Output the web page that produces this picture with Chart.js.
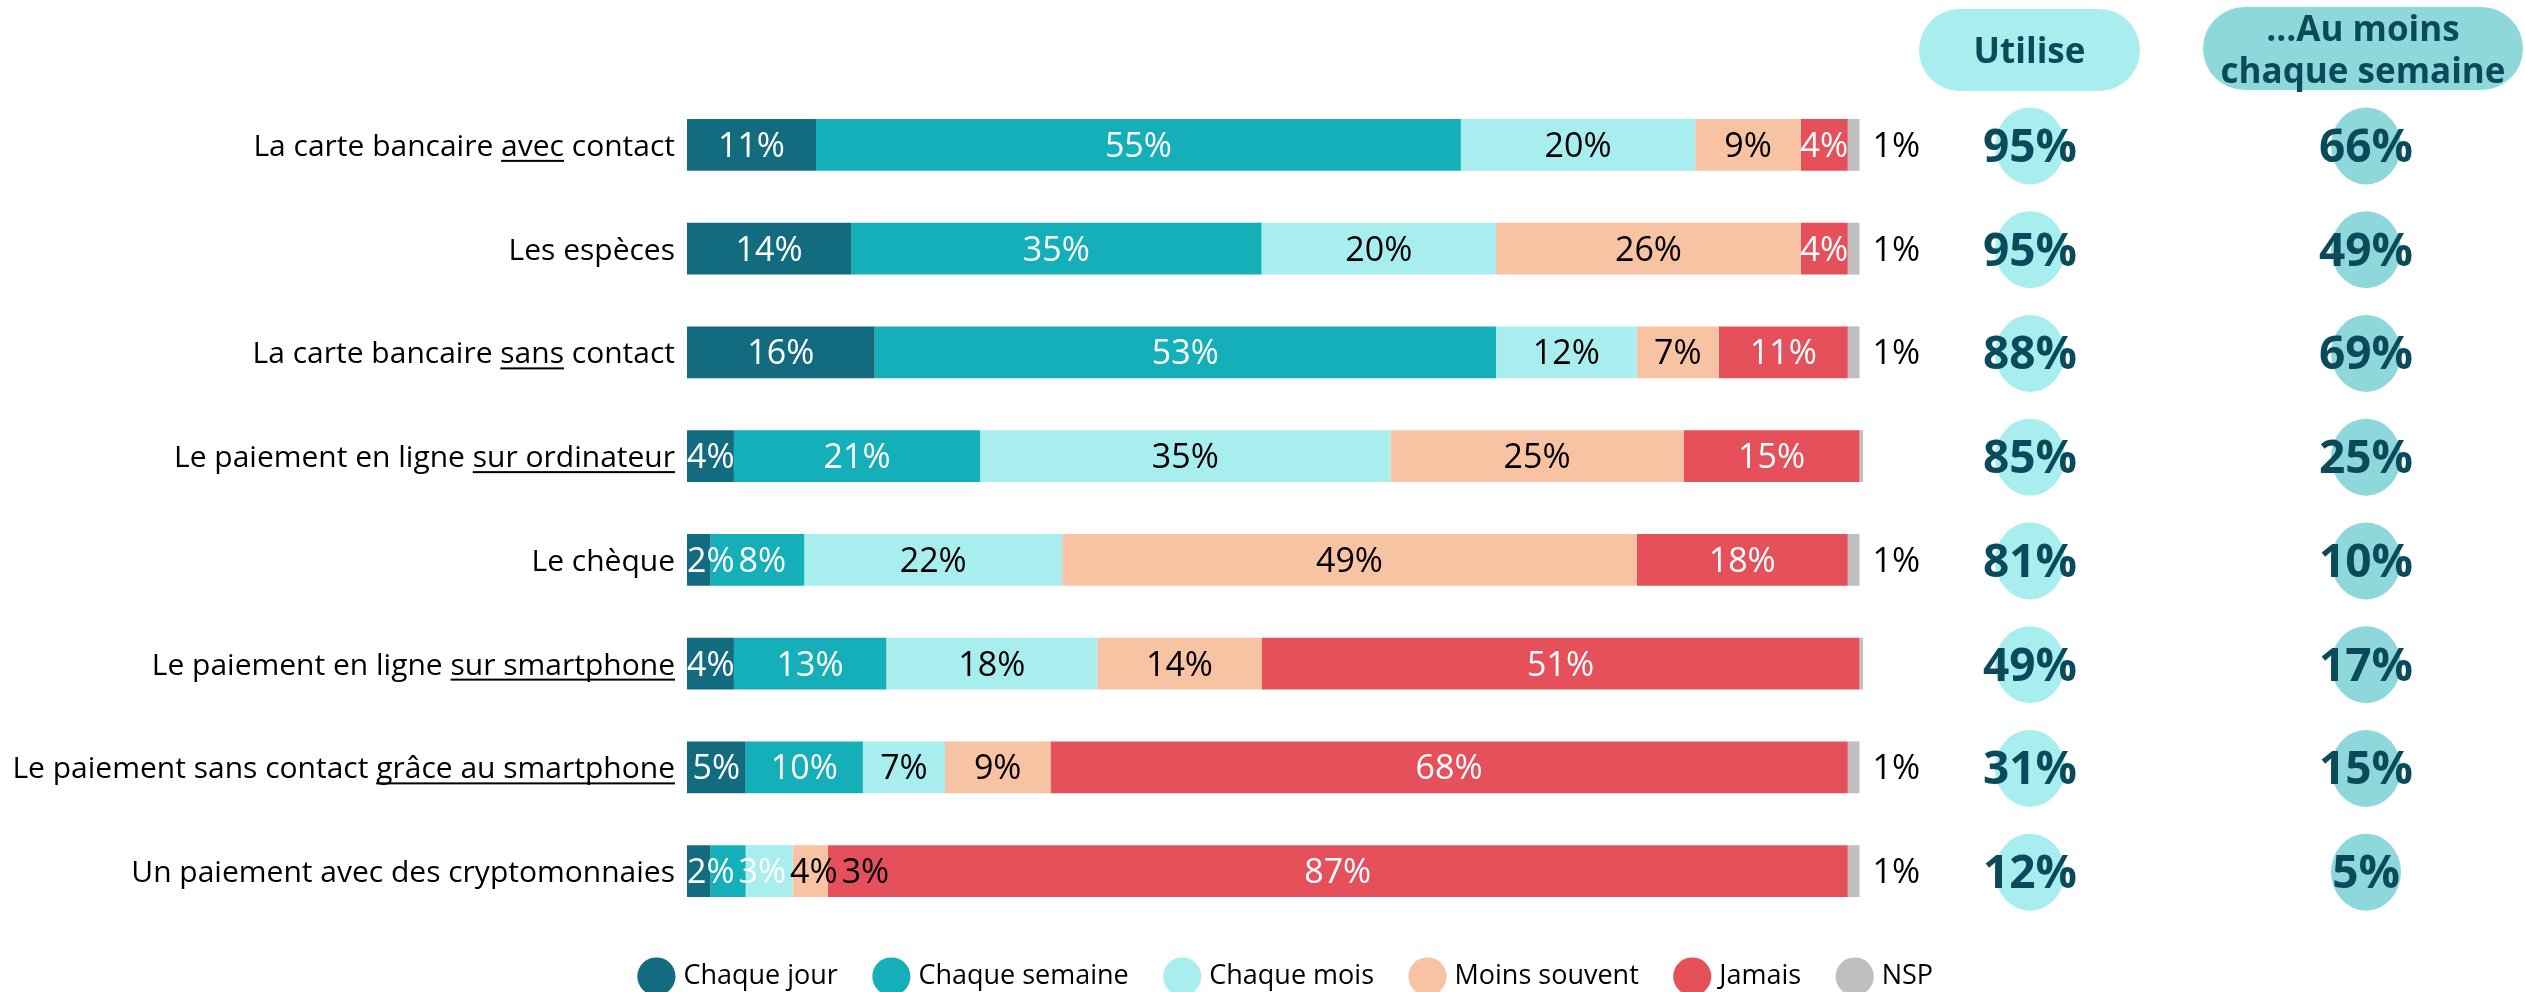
<!DOCTYPE html>
<html lang="fr">
<head>
<meta charset="utf-8">
<title>Fréquence d'utilisation des moyens de paiement</title>
<script src="https://cdn.jsdelivr.net/npm/chart.js@4.4.1/dist/chart.umd.min.js"></script>
<style>
  html, body { margin: 0; padding: 0; background: #fff; }
</style>
</head>
<body>
<canvas id="chart" width="2525" height="992"></canvas>
<script>
const FONT = "'Open Sans', 'Noto Sans', sans-serif";

// Categories (top to bottom) and the part of each label that is underlined
const categories = [
    'La carte bancaire avec contact',
    'Les espèces',
    'La carte bancaire sans contact',
    'Le paiement en ligne sur ordinateur',
    'Le chèque',
    'Le paiement en ligne sur smartphone',
    'Le paiement sans contact grâce au smartphone',
    'Un paiement avec des cryptomonnaies',
];
const underlined = ['avec', '', 'sans', 'sur ordinateur', '', 'sur smartphone', 'grâce au smartphone', ''];

// Series (%)
const seriesNames   = ['Chaque jour', 'Chaque semaine', 'Chaque mois', 'Moins souvent', 'Jamais', 'NSP'];
const chaqueJour    = [11, 14, 16,  4,  2,  4,  5,  2];
const chaqueSemaine = [55, 35, 53, 21,  8, 13, 10,  3];
const chaqueMois    = [20, 20, 12, 35, 22, 18,  7,  4];
const moinsSouvent  = [ 9, 26,  7, 25, 49, 14,  9,  3];
const jamais        = [ 4,  4, 11, 15, 18, 51, 68, 87];
const nsp           = [ 1,  1,  1, 0.3, 1, 0.3, 1,  1];

// Right-hand summary columns
const headers        = [['Utilise'], ['...Au moins', 'chaque semaine']];
const utilise        = [95, 95, 88, 85, 81, 49, 31, 12];
const auMoinsSemaine = [66, 49, 69, 25, 10, 17, 15,  5];

const colors      = ['#136b80', '#14afb8', '#a8eeee', '#f7c3a3', '#e6505a', '#bfbfbf'];
const labelColors = ['#ffffff', '#ffffff', '#000000', '#000000', '#ffffff', '#000000'];
const darkTeal    = '#0b4a5a';

const seriesData = [chaqueJour, chaqueSemaine, chaqueMois, moinsSouvent, jamais, nsp];

// Labels on the bar segments; pushed right when they would overlap
const barLabels = {
    id: 'barLabels',
    afterDatasetsDraw(chart) {
        const { ctx, chartArea } = chart;
        ctx.save();
        ctx.font = `34px ${FONT}`;
        ctx.textBaseline = 'alphabetic';
        ctx.textAlign = 'left';
        const last = seriesNames.length - 1;
        categories.forEach((_, i) => {
            let prevRight = -Infinity;
            chart.data.datasets.forEach((ds, d) => {
                const v = ds.data[i];
                if (v < 1) return;
                const bar  = chart.getDatasetMeta(d).data[i];
                const text = v + '%';
                const w    = ctx.measureText(text).width;
                let x;
                if (d === last) {
                    x = bar.x + 13;
                } else {
                    x = (bar.base + bar.x) / 2 - w / 2;
                    x = Math.max(x, chartArea.left, prevRight + 4);
                }
                ctx.fillStyle = labelColors[d];
                ctx.fillText(text, x, bar.y + 12);
                prevRight = x + w;
            });
        });
        ctx.restore();
    }
};

// Category labels with underlined words
const categoryLabels = {
    id: 'categoryLabels',
    afterDraw(chart) {
        const { ctx, chartArea, scales: { y } } = chart;
        ctx.save();
        ctx.font = `30px ${FONT}`;
        ctx.fillStyle = '#000';
        ctx.textAlign = 'left';
        ctx.textBaseline = 'alphabetic';
        const right = chartArea.left - 12;
        categories.forEach((label, i) => {
            const base = y.getPixelForValue(i) + 11;
            const w  = ctx.measureText(label).width;
            const x0 = right - w;
            ctx.fillText(label, x0, base);
            const u = underlined[i];
            if (u) {
                const start = label.lastIndexOf(u);
                const ux = x0 + ctx.measureText(label.slice(0, start)).width;
                ctx.fillRect(ux, base + 4, ctx.measureText(u).width, 2);
            }
        });
        ctx.restore();
    }
};

// Header pills and circled totals on the right
const sideColumns = {
    id: 'sideColumns',
    afterDraw(chart) {
        const { ctx, scales: { y } } = chart;
        const cols = [
            { cx: 2030, values: utilise,        fill: '#a8eeee', head: headers[0], pill: [1919, 9, 221, 82], base: [63] },
            { cx: 2366, values: auMoinsSemaine, fill: '#8ed8dc', head: headers[1], pill: [2203, 7, 320, 83], base: [41, 83] },
        ];
        ctx.save();
        ctx.textAlign = 'center';
        ctx.textBaseline = 'alphabetic';
        cols.forEach(col => {
            const [px, py, pw, ph] = col.pill;
            ctx.fillStyle = col.fill;
            ctx.beginPath();
            ctx.roundRect(px, py, pw, ph, ph / 2);
            ctx.fill();
            ctx.fillStyle = darkTeal;
            ctx.font = `bold 35px ${FONT}`;
            col.head.forEach((line, k) => ctx.fillText(line, px + pw / 2, col.base[k]));

            col.values.forEach((v, i) => {
                const yc = y.getPixelForValue(i);
                ctx.fillStyle = col.fill;
                ctx.beginPath();
                ctx.ellipse(col.cx, yc + 1, 35, 38.5, 0, 0, Math.PI * 2);
                ctx.fill();
                ctx.fillStyle = darkTeal;
                ctx.font = `bold 46px ${FONT}`;
                ctx.fillText(v + '%', col.cx, yc + 17);
            });
        });
        ctx.restore();
    }
};

new Chart(document.getElementById('chart'), {
    type: 'bar',
    data: {
        labels: categories,
        datasets: seriesNames.map((name, d) => ({
            label:              name,
            data:               seriesData[d],
            backgroundColor:    colors[d],
            borderWidth:        0,
            barPercentage:      0.5,
            categoryPercentage: 1,
        })),
    },
    options: {
        indexAxis:  'y',
        responsive: false,
        animation:  false,
        layout: { padding: { top: 93, left: 51, right: 0, bottom: -8 } },
        plugins: {
            tooltip: { enabled: false },
            legend: {
                position: 'bottom',
                labels: {
                    usePointStyle: true,
                    pointStyle:    'circle',
                    color:         '#000',
                    font:          { family: FONT, size: 27 },
                    padding:       40,
                },
            },
        },
        scales: {
            x: { stacked: true, min: 0, max: 100.3, display: false },
            y: {
                stacked: true,
                grid:    { display: false },
                border:  { display: false },
                ticks:   { display: false },
                afterFit: s => { s.width = 636; },
            },
            yRight: {
                type:     'category',
                labels:   categories,
                position: 'right',
                grid:     { display: false },
                border:   { display: false },
                ticks:    { display: false },
                afterFit: s => { s.width = 662; },
            },
        },
    },
    plugins: [barLabels, categoryLabels, sideColumns],
});
</script>
</body>
</html>
